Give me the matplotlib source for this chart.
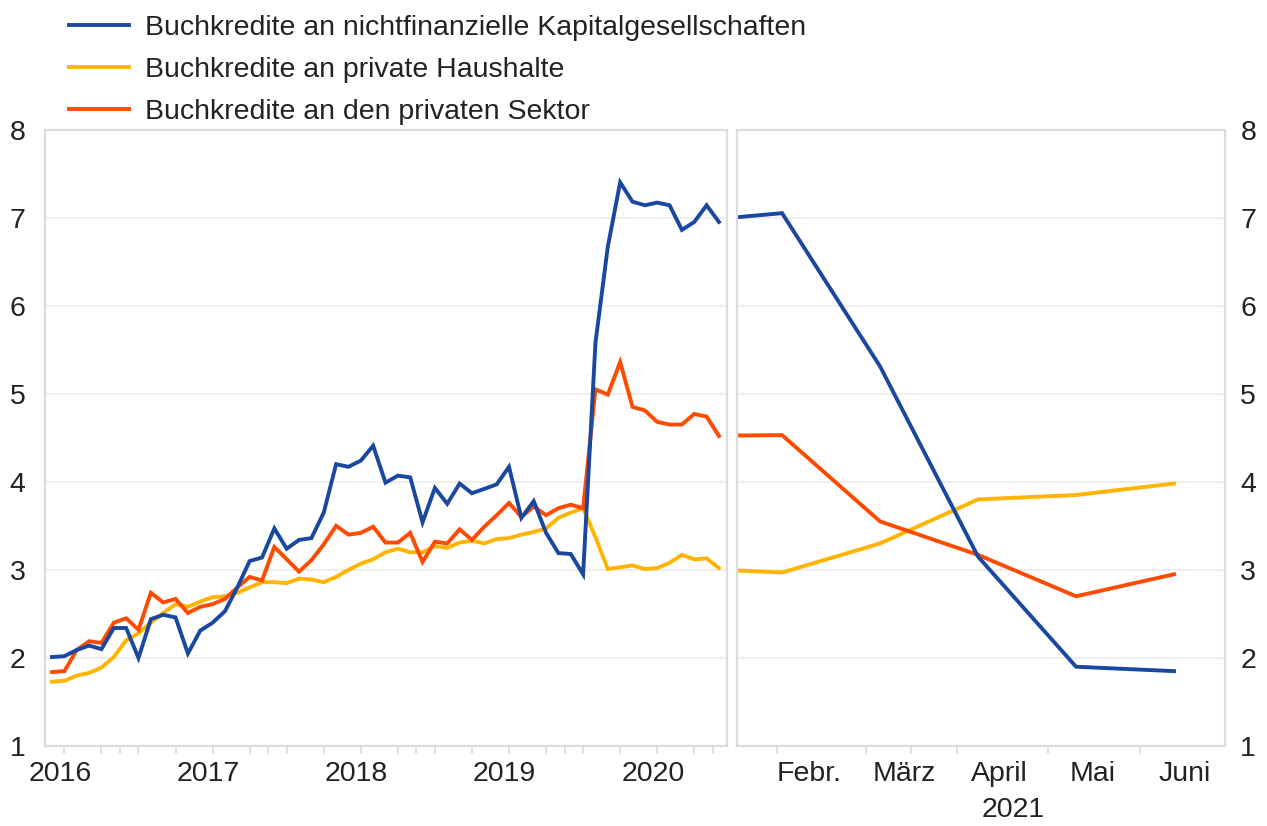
import numpy as np
import matplotlib
matplotlib.use("Agg")
import matplotlib.pyplot as plt
from matplotlib.lines import Line2D

plt.rcParams['font.family'] = ['Liberation Sans', 'DejaVu Sans']

# Monatswerte Juli 2016 - Januar 2021 (linkes Feld), Veraenderung ggue. Vorjahr in %
NFK = [2.01, 2.02, 2.09, 2.14, 2.10, 2.34, 2.34, 2.00, 2.44, 2.49, 2.46, 2.05,
       2.31, 2.40, 2.53, 2.80, 3.10, 3.14, 3.47, 3.24, 3.34, 3.36, 3.65, 4.20,
       4.17, 4.24, 4.41, 3.99, 4.07, 4.05, 3.54, 3.93, 3.75, 3.98, 3.87, 3.92,
       3.97, 4.17, 3.59, 3.78, 3.42, 3.19, 3.18, 2.95, 5.58, 6.67, 7.40, 7.18,
       7.14, 7.17, 7.14, 6.86, 6.95, 7.14, 6.95]
HH = [1.73, 1.74, 1.80, 1.83, 1.89, 2.01, 2.20, 2.28, 2.40, 2.51, 2.61, 2.58,
      2.64, 2.69, 2.70, 2.74, 2.80, 2.86, 2.86, 2.85, 2.90, 2.89, 2.86, 2.92,
      3.00, 3.07, 3.12, 3.20, 3.24, 3.20, 3.20, 3.27, 3.25, 3.31, 3.33, 3.30,
      3.35, 3.36, 3.40, 3.43, 3.47, 3.59, 3.65, 3.70, 3.37, 3.01, 3.03, 3.05,
      3.01, 3.02, 3.08, 3.17, 3.12, 3.13, 3.02]
PS = [1.84, 1.85, 2.09, 2.19, 2.17, 2.40, 2.45, 2.32, 2.74, 2.63, 2.67, 2.51,
      2.58, 2.61, 2.67, 2.80, 2.92, 2.88, 3.26, 3.12, 2.98, 3.11, 3.29, 3.50,
      3.40, 3.42, 3.49, 3.31, 3.31, 3.42, 3.09, 3.32, 3.30, 3.46, 3.34, 3.49,
      3.62, 3.76, 3.60, 3.72, 3.62, 3.70, 3.74, 3.70, 5.05, 4.99, 5.36, 4.85,
      4.81, 4.68, 4.65, 4.65, 4.77, 4.74, 4.52]
JAHRE = ["2016", "2017", "2018", "2019", "2020"]

# 2021, Januar - Juni (rechtes Feld)
MONATE_21 = ["Jan.", "Febr.", "März", "April", "Mai", "Juni"]
NFK_21 = [6.95, 7.05, 5.31, 3.15, 1.90, 1.85]
HH_21 = [3.02, 2.97, 3.30, 3.80, 3.85, 3.98]
PS_21 = [4.52, 4.53, 3.55, 3.17, 2.70, 2.95]

LABELS = ["Buchkredite an nichtfinanzielle Kapitalgesellschaften",
          "Buchkredite an private Haushalte",
          "Buchkredite an den privaten Sektor"]
BLAU, GELB, ROT = "#1a47a0", "#ffb400", "#ff4b00"
FS = 20.5
LW = 2.8
RAHMEN = "#dcdcdc"
GITTER = "#eeeeee"

W, H = 1267, 826
fig = plt.figure(figsize=(W / 100, H / 100), dpi=100)
y0, y1 = 746, 129.5
ax1 = fig.add_axes([45 / W, 1 - y0 / H, (727 - 45) / W, (y0 - y1) / H])
ax2 = fig.add_axes([737 / W, 1 - y0 / H, (1225 - 737) / W, (y0 - y1) / H])

x1 = np.arange(len(NFK))
for vals, c in [(HH, GELB), (PS, ROT), (NFK, BLAU)]:
    ax1.plot(x1, vals, color=c, lw=LW, solid_joinstyle="miter")
x2 = np.arange(len(MONATE_21))
for vals, c in [(HH_21, GELB), (PS_21, ROT), (NFK_21, BLAU)]:
    ax2.plot(x2, vals, color=c, lw=LW, solid_joinstyle="miter")

for ax in (ax1, ax2):
    ax.set_ylim(1, 8)
    ax.set_yticks(range(1, 9))
    ax.grid(axis="y", color=GITTER, lw=1.5)
    ax.set_axisbelow(True)
    for s in ax.spines.values():
        s.set_color(RAHMEN)
        s.set_linewidth(1.6)
    ax.tick_params(axis="both", which="major", length=0, labelsize=FS, colors="#222222")
    ax.tick_params(axis="x", which="minor", length=6, width=1.2, color=RAHMEN)
    ax.tick_params(axis="x", which="major", pad=11)

ax1.set_xlim(-0.57, 54.65)
ax1.set_xticks([12 * k + 0.65 for k in range(len(JAHRE))], JAHRE)
ax1.set_xticks(list(np.arange(1, 55, 3)) + list(np.arange(5.5, 55, 12)), minor=True)
ax1.tick_params(axis="y", pad=14)

ax2.set_xlim(0.54, 5.52)
ax2.set_xticks([1.28, 2.25, 3.22, 4.17, 5.11], MONATE_21[1:])
ax2.set_xticks([0.95, 1.86, 2.32, 2.79, 3.71, 4.65], minor=True)
ax2.yaxis.tick_right()
ax2.tick_params(axis="y", pad=11)
ax2.text(0.565, -0.083, "2021", transform=ax2.transAxes, ha="center", va="top",
         fontsize=FS, color="#222222")

handles = [Line2D([], [], color=c, lw=LW) for c in (BLAU, GELB, ROT)]
fig.legend(handles, LABELS, loc="upper left", bbox_to_anchor=(58 / W, 1 - 4 / H),
           frameon=False, fontsize=FS, handlelength=2.1, handletextpad=0.55,
           labelspacing=0.55, borderaxespad=0, labelcolor="#222222")

fig.savefig("out.png", dpi=100)
